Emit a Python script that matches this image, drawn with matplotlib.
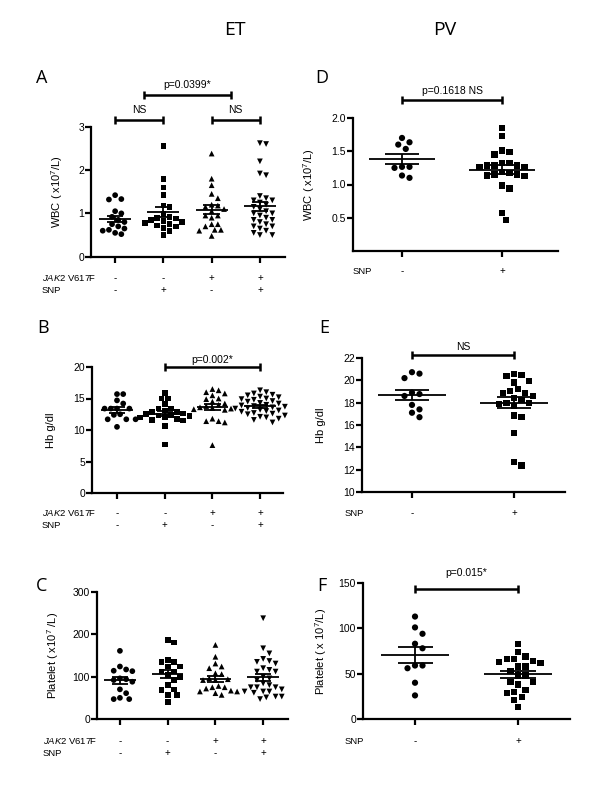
import numpy as np
import matplotlib.pyplot as plt

plt.rcParams['font.family'] = ['Liberation Sans', 'DejaVu Sans']
plt.rcParams['mathtext.fontset'] = 'custom'
plt.rcParams['mathtext.rm'] = 'Liberation Sans'
plt.rcParams['mathtext.it'] = 'Liberation Sans:italic'

# ---- data ----
# ET groups: (JAK2-, SNP-), (JAK2-, SNP+), (JAK2+, SNP-), (JAK2+, SNP+)
jak2_signs = ['-', '-', '+', '+']
snp_signs_et = ['-', '+', '-', '+']
snp_signs_pv = ['-', '+']

wbc_et = [
    [1.42, 1.33, 1.32, 1.05, 1.0, 0.92, 0.85, 0.8, 0.75, 0.7, 0.65, 0.62, 0.6, 0.55, 0.52],
    [2.55, 1.8, 1.6, 1.42, 1.18, 1.15, 0.98, 0.92, 0.9, 0.88, 0.85, 0.82, 0.8, 0.78,
     0.75, 0.72, 0.7, 0.66, 0.6, 0.5],
    [2.38, 1.8, 1.65, 1.45, 1.35, 1.2, 1.18, 1.15, 1.1, 1.05, 0.95, 0.95, 0.9, 0.75,
     0.75, 0.7, 0.62, 0.62, 0.6, 0.48],
    [2.62, 2.6, 2.2, 1.92, 1.88, 1.4, 1.35, 1.3, 1.3, 1.25, 1.2, 1.15, 1.1, 1.05, 1.0,
     1.0, 0.95, 0.9, 0.85, 0.85, 0.8, 0.75, 0.7, 0.7, 0.65, 0.6, 0.55, 0.5, 0.5],
]
hb_et = [
    [15.7, 15.7, 14.7, 14.2, 13.4, 13.4, 13.4, 13.4, 12.4, 12.5, 11.7, 11.7, 11.7, 10.5],
    [15.9, 15.0, 15.0, 14.1, 13.4, 13.4, 13.1, 12.9, 12.8, 12.6, 12.5, 12.4, 12.3, 12.2,
     12.1, 12.0, 11.8, 11.6, 11.5, 10.6, 7.7],
    [16.5, 16.3, 16.0, 15.8, 15.5, 15.0, 14.9, 14.5, 14.2, 14.0, 13.8, 13.6, 13.5, 13.4,
     13.3, 13.2, 11.8, 11.4, 11.4, 11.2, 7.6],
    [16.3, 16.0, 15.8, 15.6, 15.5, 15.3, 15.2, 15.0, 14.9, 14.8, 14.6, 14.5, 14.3, 14.2,
     14.0, 13.9, 13.8, 13.7, 13.6, 13.5, 13.4, 13.2, 13.1, 13.0, 12.9, 12.7, 12.6, 12.5,
     12.3, 12.1, 12.0, 11.8, 11.6, 11.2],
]
plt_et = [
    [161, 124, 117, 114, 113, 96, 94, 92, 88, 70, 61, 50, 47, 47],
    [187, 181, 139, 135, 135, 124, 124, 112, 112, 104, 100, 92, 80, 70, 68, 57, 57, 41],
    [175, 147, 131, 124, 120, 108, 106, 96, 94, 92, 92, 78, 75, 75, 72, 67, 65, 65, 61, 57],
    [238, 167, 155, 142, 137, 135, 131, 120, 112, 112, 116, 100, 96, 92, 84, 80, 75, 75,
     75, 70, 65, 65, 65, 62, 53, 51, 53, 47],
]

# PV groups: SNP-, SNP+
wbc_pv = [
    [1.70, 1.635, 1.60, 1.535, 1.25, 1.265, 1.265, 1.10, 1.135],
    [1.85, 1.725, 1.51, 1.485, 1.45, 1.325, 1.325, 1.285, 1.265, 1.265, 1.285, 1.285,
     1.135, 1.125, 1.15, 1.15, 1.175, 1.185, 0.985, 0.94, 0.575, 0.465],
]
hb_pv = [
    [20.6, 20.73, 20.2, 18.9, 18.77, 18.6, 17.8, 17.4, 17.1, 16.7],
    [20.5, 20.6, 20.4, 19.95, 19.8, 19.2, 18.9, 18.6, 18.9, 19.05, 18.45, 18.0, 17.9,
     17.7, 18.0, 18.25, 16.7, 16.85, 15.27, 12.7, 12.37],
]
plt_pv = [
    [113, 101, 94, 83, 78, 59, 56, 59, 40, 26],
    [83, 74, 69, 66, 64, 62, 66, 63, 58, 58, 53, 48, 48, 41, 38, 41, 32, 29, 30, 24, 21, 13],
]

markers_et = ['o', 's', '^', 'v']
markers_pv = ['o', 's']

W, H = 600, 800
fig = plt.figure(figsize=(6, 8), dpi=100)


def px_axes(left, top, right, bottom):
    return fig.add_axes([left / W, 1 - bottom / H, (right - left) / W, (bottom - top) / H])


def ftext(x, y, s, **kw):
    fig.text(x / W, 1 - y / H, s, **kw)


def swarm_x(ax, xc, vals, d):
    # simple greedy beeswarm in pixel space
    vals = np.asarray(vals, float)
    pts = ax.transData.transform(np.column_stack([np.full(len(vals), xc), vals]))
    cx, ys = pts[0, 0], pts[:, 1]
    xs = np.empty(len(vals))
    steps = [0.0]
    for k in range(1, 40):
        steps += [k * d * 0.5, -k * d * 0.5]
    placed = []
    for i in np.argsort(-vals):
        y = ys[i]
        for off in steps:
            if all((off - a) ** 2 + (y - b) ** 2 >= d * d for a, b in placed):
                break
        placed.append((off, y))
        xs[i] = cx + off
    return ax.transData.inverted().transform(np.column_stack([xs, ys]))[:, 0]


def style(ax, xlim, ylim, yticks, yticklabels=None):
    ax.set_xlim(*xlim)
    ax.set_ylim(*ylim)
    for s in ['top', 'right']:
        ax.spines[s].set_visible(False)
    for s in ['left', 'bottom']:
        ax.spines[s].set_linewidth(1.6)
    ax.set_xticks(range(1, int(xlim[1]) + 1))
    ax.set_xticklabels([])
    ax.set_yticks(yticks)
    if yticklabels is not None:
        ax.set_yticklabels(yticklabels)
    ax.tick_params(direction='out', length=4, width=1.6, labelsize=7.5, pad=1)


def draw_groups(ax, groups, markers, ms=17, d=6.2):
    for i, (vals, mk) in enumerate(zip(groups, markers)):
        x0 = i + 1
        xs = swarm_x(ax, x0, vals, d)
        ax.scatter(xs, vals, marker=mk, s=ms, color='black', edgecolors='none',
                   zorder=2, clip_on=False)
        v = np.asarray(vals, float)
        m = v.mean()
        se = v.std(ddof=1) / np.sqrt(len(v))
        ax.hlines(m, x0 - 0.33, x0 + 0.33, color='black', lw=1.3, zorder=3)
        ax.hlines([m - se, m + se], x0 - 0.17, x0 + 0.17, color='black', lw=1.3, zorder=3)
        ax.vlines(x0, m - se, m + se, color='black', lw=1.3, zorder=3)


def bracket(ax, x1, x2, y, cap, text, ty):
    kw = dict(color='black', lw=1.8, clip_on=False, solid_capstyle='butt')
    ax.plot([x1, x2], [y, y], **kw)
    ax.plot([x1, x1], [y - cap, y + cap], **kw)
    ax.plot([x2, x2], [y - cap, y + cap], **kw)
    ax.text((x1 + x2) / 2, ty, text, ha='center', va='center', fontsize=7.5)


def signs(ax, rows, offsets):
    for row, dy in zip(rows, offsets):
        for i, s in enumerate(row):
            ax.annotate(s, xy=(i + 1, 0), xycoords=('data', 'axes fraction'),
                        xytext=(0, -dy), textcoords='offset pixels',
                        ha='center', va='center', fontsize=7)


def ylabel(ax, text, dx):
    ax.set_ylabel(text, fontsize=8)
    w = ax.get_position().width * W
    ax.yaxis.set_label_coords(-dx / w, 0.5)


ROW_FS = 6.8

# ---- panel A ----
axA = px_axes(91, 126.7, 285, 256.7)
style(axA, (0.5, 4.52), (0, 3), [0, 1, 2, 3])
draw_groups(axA, wbc_et, markers_et)
bracket(axA, 1, 2, 3.155, 0.09, 'NS', 3.38)
bracket(axA, 3, 4, 3.155, 0.09, 'NS', 3.38)
bracket(axA, 1.6, 3.4, 3.73, 0.09, 'p=0.0399*', 3.96)
ylabel(axA, 'WBC ( x10$^{7}$/L)', 26)
signs(axA, [jak2_signs, snp_signs_et], [21, 33])
ftext(42, 278, '$\\mathit{JAK2}$ V617F', fontsize=ROW_FS, va='center')
ftext(42, 290, 'SNP', fontsize=ROW_FS, va='center')

# ---- panel B ----
axB = px_axes(92, 367, 283, 493)
style(axB, (0.476, 4.48), (0, 20), [0, 5, 10, 15, 20])
draw_groups(axB, hb_et, markers_et)
bracket(axB, 2, 4, 20, 0.63, 'p=0.002*', 21.1)
ylabel(axB, 'Hb g/dl', 36)
signs(axB, [jak2_signs, snp_signs_et], [20, 32])
ftext(42, 513, '$\\mathit{JAK2}$ V617F', fontsize=ROW_FS, va='center')
ftext(42, 525, 'SNP', fontsize=ROW_FS, va='center')

# ---- panel C ----
axC = px_axes(97, 592, 288, 719)
style(axC, (0.52, 4.52), (0, 300), [0, 100, 200, 300])
draw_groups(axC, plt_et, markers_et)
ylabel(axC, 'Platelet ( x10$^{7}$ /L)', 36)
signs(axC, [jak2_signs, snp_signs_et], [22, 34])
ftext(43, 741, '$\\mathit{JAK2}$ V617F', fontsize=ROW_FS, va='center')
ftext(43, 753, 'SNP', fontsize=ROW_FS, va='center')

# ---- panel D ----
axD = px_axes(353, 118, 558, 251)
style(axD, (0.51, 2.56), (0, 2), [0.5, 1.0, 1.5, 2.0], ['0.5', '1.0', '1.5', '2.0'])
draw_groups(axD, wbc_pv, markers_pv, ms=20, d=7.5)
bracket(axD, 1, 2, 2.27, 0.06, 'p=0.1618 NS', 2.40)
ylabel(axD, 'WBC ( x10$^{7}$/L)', 36)
signs(axD, [snp_signs_pv], [20])
ftext(353, 271, 'SNP', fontsize=ROW_FS, va='center')

# ---- panel E ----
axE = px_axes(362, 358, 565, 492)
style(axE, (0.51, 2.5), (10, 22), [10, 12, 14, 16, 18, 20, 22])
draw_groups(axE, hb_pv, markers_pv, ms=20, d=7.5)
bracket(axE, 1, 2, 22.27, 0.36, 'NS', 22.98)
ylabel(axE, 'Hb g/dl', 36)
signs(axE, [snp_signs_pv], [21])
ftext(345, 513, 'SNP', fontsize=ROW_FS, va='center')

# ---- panel F ----
axF = px_axes(363, 583, 570, 719)
style(axF, (0.495, 2.505), (0, 150), [0, 50, 100, 150])
draw_groups(axF, plt_pv, markers_pv, ms=20, d=7.5)
bracket(axF, 1, 2, 143.4, 4.4, 'p=0.015*', 161)
ylabel(axF, 'Platelet ( x 10$^{7}$/L)', 34)
signs(axF, [snp_signs_pv], [22])
ftext(345, 741, 'SNP', fontsize=ROW_FS, va='center')

# ---- titles and panel letters ----
ftext(235, 30, 'ET', fontsize=14, ha='center', va='center', family=['Open Sans', 'DejaVu Sans'])
ftext(445, 30, 'PV', fontsize=14, ha='center', va='center', family=['Open Sans', 'DejaVu Sans'])
for lab, x, y in [('A', 42, 78), ('B', 43, 328), ('C', 42, 586),
                  ('D', 322, 78), ('E', 324, 328), ('F', 322, 586)]:
    ftext(x, y, lab, fontsize=13, ha='center', va='center', family=['Open Sans', 'DejaVu Sans'])

fig.savefig('out.png', dpi=100)
